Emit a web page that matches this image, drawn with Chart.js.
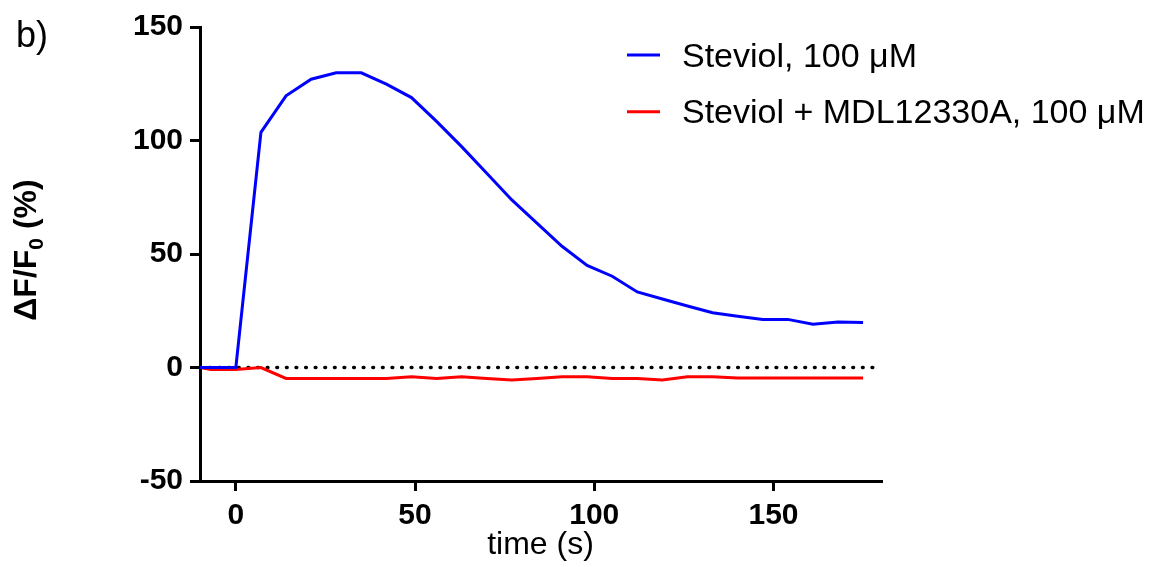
<!DOCTYPE html>
<html>
<head>
<meta charset="utf-8">
<script src="https://cdn.jsdelivr.net/npm/chart.js@4.4.1/dist/chart.umd.min.js"></script>
<style>
  html, body { margin: 0; padding: 0; background: #fff; }
  #wrap { position: relative; width: 1164px; height: 567px; }
</style>
</head>
<body>
<div id="wrap"><canvas id="calcium"></canvas></div>
<script>
//-----------------Data
const timeS      = [-10, -7, 0, 7, 14, 21, 28, 35, 42, 49, 56, 63, 70, 77, 84, 91, 98, 105, 112, 119, 126, 133, 140, 147, 154, 161, 168, 175]
const steviol    = [0, 0, 0, 103.6, 119.7, 127.0, 129.8, 129.8, 124.8, 118.9, 108.4, 97.3, 85.6, 73.8, 63.6, 53.4, 45.0, 40.2, 33.3, 30.2, 27.1, 24.1, 22.6, 21.2, 21.2, 19.1, 20.0, 19.8]
const steviolMdl = [0, -0.9, -0.9, 0, -4.8, -4.8, -4.8, -4.8, -4.8, -4.1, -4.8, -4.1, -4.8, -5.5, -4.8, -4.1, -4.1, -4.8, -4.8, -5.5, -4.1, -4.1, -4.6, -4.6, -4.6, -4.6, -4.6, -4.6]
const zeroLineX  = [-10, 178.5]
const zeroLineY  = [0, 0]
const seriesLabels = ['Steviol, 100 \u03bcM', 'Steviol + MDL12330A, 100 \u03bcM']
const xTicks = [0, 50, 100, 150]
const yTicks = [-50, 0, 50, 100, 150]

const FONT = '"Liberation Sans", Arial, sans-serif'

function toPoints(xs, ys){
  return xs.map((x, i) => ({x: x, y: ys[i]}))
}

//-----------------Legend drawn on top of the plot (top right)
const legendBox = {
  id: 'legendBox',
  afterDraw(chart){
    const ctx = chart.ctx
    ctx.save()
    ctx.font = '34px ' + FONT
    ctx.fillStyle = '#000'
    ctx.textBaseline = 'alphabetic'
    chart.data.datasets.slice(0, 2).forEach((ds, i) => {
      const y = 55 + i * 56.7
      ctx.strokeStyle = ds.borderColor
      ctx.lineWidth = 3
      ctx.beginPath()
      ctx.moveTo(627, y)
      ctx.lineTo(660, y)
      ctx.stroke()
      ctx.fillText(ds.label, 682, y + 11.7)
    })
    ctx.restore()
  }
}

//-----------------y title with subscript + panel letter
const extraText = {
  id: 'extraText',
  afterDraw(chart){
    const ctx = chart.ctx
    ctx.save()
    ctx.fillStyle = '#000'
    ctx.textBaseline = 'alphabetic'
    ctx.font = '36px ' + FONT
    ctx.fillText('b)', 16, 47)

    const big = 'bold 32px ' + FONT
    const small = 'bold 21px ' + FONT
    ctx.font = big
    const w1 = ctx.measureText('\u0394F/F').width
    const w3 = ctx.measureText(' (%)').width
    ctx.font = small
    const w2 = ctx.measureText('0').width
    const total = w1 + w2 + w3
    ctx.translate(36, 250)
    ctx.rotate(-Math.PI / 2)
    let x = -total / 2
    ctx.font = big
    ctx.fillText('\u0394F/F', x, 0)
    x += w1
    ctx.font = small
    ctx.fillText('0', x, 7)
    x += w2
    ctx.font = big
    ctx.fillText(' (%)', x, 0)
    ctx.restore()
  }
}

function FluoChart(){
  const ctx = document.getElementById('calcium').getContext('2d')
  const axisGrid = {
    display: true,
    drawOnChartArea: false,
    drawTicks: true,
    tickLength: 10,
    lineWidth: 3,
    color: '#000'
  }
  GraphFluo = new Chart(ctx, {            //Global
    type: 'line',
    data: {
      datasets: [{
        label: seriesLabels[0],
        data: toPoints(timeS, steviol),
        borderColor: '#0000ff',
        borderWidth: 3,
        pointRadius: 0,
        tension: 0,
        fill: false
      }, {
        label: seriesLabels[1],
        data: toPoints(timeS, steviolMdl),
        borderColor: '#ff0000',
        borderWidth: 3,
        pointRadius: 0,
        tension: 0,
        fill: false
      }, {
        label: 'zero',
        data: toPoints(zeroLineX, zeroLineY),
        borderColor: '#000',
        borderWidth: 3.4,
        borderDash: [0.8, 8.8],
        borderCapStyle: 'round',
        pointRadius: 0,
        fill: false
      }]
    },
    options: {
      responsive: true,
      maintainAspectRatio: false,
      animation: false,
      layout: { padding: { top: 27, right: 283, left: 0, bottom: 0 } },
      plugins: {
        legend: { display: false },
        tooltip: { enabled: false }
      },
      scales: {
        x: {
          type: 'linear',
          min: -10,
          max: 180,
          afterBuildTicks: s => { s.ticks = xTicks.map(v => ({value: v})) },
          afterFit: s => { s.height = 86 },
          ticks: {
            color: '#000',
            padding: 7,
            maxRotation: 0,
            font: { family: FONT, size: 30, weight: 'bold' }
          },
          border: { display: true, width: 3, color: '#000' },
          grid: axisGrid,
          title: {
            display: true,
            text: 'time (s)',
            color: '#000',
            padding: { top: 0, bottom: 3 },
            font: { family: FONT, size: 32 }
          }
        },
        y: {
          min: -50,
          max: 150,
          afterBuildTicks: s => { s.ticks = yTicks.map(v => ({value: v})) },
          afterFit: s => { s.width = 200 },
          ticks: {
            color: '#000',
            padding: 7,
            font: { family: FONT, size: 30, weight: 'bold' }
          },
          border: { display: true, width: 3, color: '#000' },
          grid: axisGrid
        }
      }
    },
    plugins: [legendBox, extraText]
  })
}

FluoChart()
</script>
</body>
</html>
